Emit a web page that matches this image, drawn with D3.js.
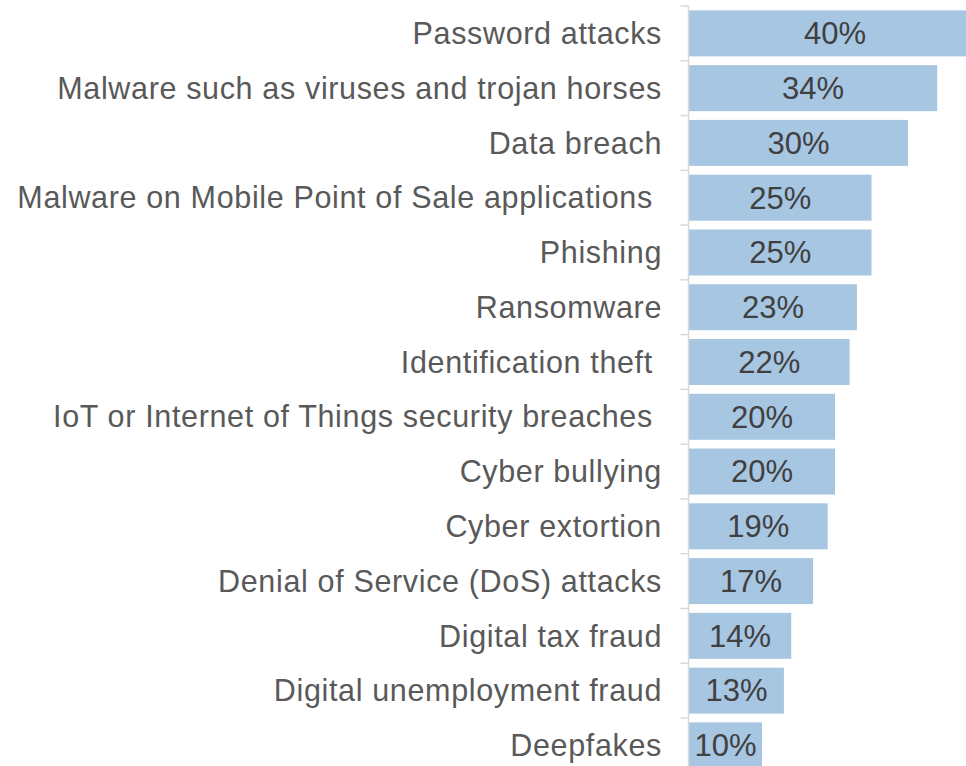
<!DOCTYPE html>
<html>
<head>
<meta charset="utf-8">
<script src="https://cdn.jsdelivr.net/npm/d3@7"></script>
<style>
  html, body { margin: 0; padding: 0; background: #fff; overflow: hidden; }
  svg { display: block; }
  text { font-family: "Liberation Sans", Arial, sans-serif; }
</style>
</head>
<body>
<svg id="chart" width="966" height="766"></svg>
<script>
// Share of respondents worried about each threat
const categories = [
  "Password attacks",
  "Malware such as viruses and trojan horses",
  "Data breach",
  "Malware on Mobile Point of Sale applications ",
  "Phishing",
  "Ransomware",
  "Identification theft ",
  "IoT or Internet of Things security breaches ",
  "Cyber bullying",
  "Cyber extortion",
  "Denial of Service (DoS) attacks",
  "Digital tax fraud",
  "Digital unemployment fraud",
  "Deepfakes"
];
const values = [40, 34, 30, 25, 25, 23, 22, 20, 20, 19, 17, 14, 13, 10];

const svg = d3.select("#chart");
const axisX = 688.5;

const x = d3.scaleLinear().domain([0, 40]).range([axisX + 0.5, axisX + 0.5 + 292]);
const y = d3.scaleBand()
  .domain(categories)
  .range([6, 6 + 54.77 * categories.length])
  .paddingInner(0.16)
  .paddingOuter(0.08);

const rows = categories.map((c, i) => ({ c, v: values[i] }));

// bars
svg.append("g").selectAll("rect")
  .data(rows)
  .join("rect")
  .attr("x", x(0))
  .attr("y", d => y(d.c))
  .attr("width", d => x(d.v) - x(0))
  .attr("height", y.bandwidth())
  .attr("fill", "#a7c6e2");

// category axis: vertical line with ticks at band boundaries
const step = y.step();
const r0 = y.range()[0];
const axis = svg.append("g");
axis.append("line")
  .attr("x1", axisX).attr("x2", axisX)
  .attr("y1", r0).attr("y2", r0 + step * categories.length)
  .attr("stroke", "#d9d9d9").attr("stroke-width", 1.5);
axis.selectAll("line.tick")
  .data(d3.range(categories.length + 1))
  .join("line")
  .attr("class", "tick")
  .attr("x1", axisX - 8).attr("x2", axisX)
  .attr("y1", i => r0 + i * step).attr("y2", i => r0 + i * step)
  .attr("stroke", "#d9d9d9").attr("stroke-width", 1.5);

// category labels
svg.append("g").selectAll("text")
  .data(rows)
  .join("text")
  .attr("x", 662)
  .attr("y", d => y(d.c) + y.bandwidth() / 2)
  .attr("dy", "0.35em")
  .attr("text-anchor", "end")
  .style("white-space", "pre")
  .attr("font-size", 30.5)
  .attr("letter-spacing", 0.65)
  .attr("fill", "#595959")
  .text(d => d.c);

// value labels
svg.append("g").selectAll("text")
  .data(rows)
  .join("text")
  .attr("x", d => (x(0) + x(d.v)) / 2)
  .attr("y", d => y(d.c) + y.bandwidth() / 2)
  .attr("dy", "0.35em")
  .attr("text-anchor", "middle")
  .attr("font-size", 31)
  .attr("fill", "#404040")
  .text(d => d.v + "%");
</script>
</body>
</html>
